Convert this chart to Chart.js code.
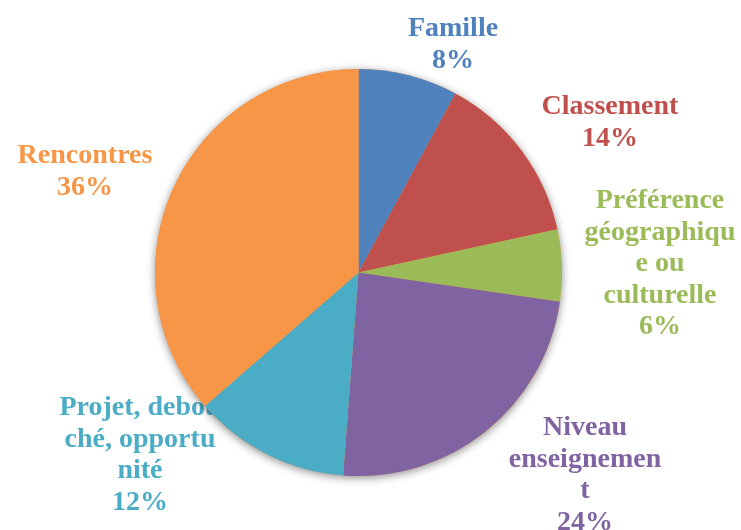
<!DOCTYPE html>
<html>
<head>
<meta charset="utf-8">
<script src="https://cdn.jsdelivr.net/npm/chart.js@4"></script>
<style>
  html, body { margin: 0; padding: 0; background: #fff; }
  #wrap { width: 741px; height: 530px; }
</style>
</head>
<body>
<div id="wrap"><canvas id="pie" width="741" height="530"></canvas></div>
<script>
const categories = ["Famille", "Classement", "Préférence géographique ou culturelle", "Niveau enseignement", "Projet, debouché, opportunité", "Rencontres"];
const values = [7.9, 13.7, 5.7, 23.9, 12.4, 36.4];
const colors = ["#4F81BD", "#C0504D", "#9BBB59", "#8064A2", "#4BACC6", "#F79646"];
// étiquettes coupées comme dans Excel
const labelLines = [
  ["Famille"],
  ["Classement"],
  ["Préférence", "géographiqu", "e ou", "culturelle"],
  ["Niveau", "enseignemen", "t"],
  ["Projet, debou", "ché, opportu", "nité"],
  ["Rencontres"]
];

// position des étiquettes (centre x, première ligne de base y)
const labelPos = [
  { x: 453, y: 36 },
  { x: 610, y: 114 },
  { x: 660, y: 208 },
  { x: 585, y: 435 },
  { x: 140, y: 415 },
  { x: 85, y: 163 }
];
const lineH = 31.5;

// étiquettes sous le camembert + ombre
const underPie = {
  id: "underPie",
  beforeDatasetsDraw(chart) {
    const ctx = chart.ctx;
    ctx.save();
    ctx.font = "bold 28px 'Liberation Serif'";
    ctx.textAlign = "center";
    ctx.textBaseline = "alphabetic";
    labelLines.forEach((lines, i) => {
      ctx.fillStyle = colors[i];
      const all = lines.concat([Math.round(values[i]) + "%"]);
      all.forEach((t, j) => {
        ctx.fillText(t, labelPos[i].x, labelPos[i].y + j * lineH);
      });
    });
    ctx.restore();

    const arc = chart.getDatasetMeta(0).data[0];
    ctx.save();
    ctx.shadowColor = "rgba(0,0,0,0.45)";
    ctx.shadowBlur = 9;
    ctx.shadowOffsetY = 2;
    ctx.fillStyle = "#F79646";
    ctx.beginPath();
    ctx.arc(arc.x, arc.y, arc.outerRadius, 0, Math.PI * 2);
    ctx.fill();
    ctx.restore();
  }
};

new Chart(document.getElementById("pie"), {
  type: "pie",
  data: {
    labels: categories,
    datasets: [{
      data: values,
      backgroundColor: colors,
      borderWidth: 0
    }]
  },
  options: {
    responsive: false,
    animation: false,
    layout: { padding: { left: 155, right: 179, top: 69, bottom: 54 } },
    plugins: {
      legend: { display: false },
      tooltip: { enabled: false }
    }
  },
  plugins: [underPie]
});
</script>
</body>
</html>
